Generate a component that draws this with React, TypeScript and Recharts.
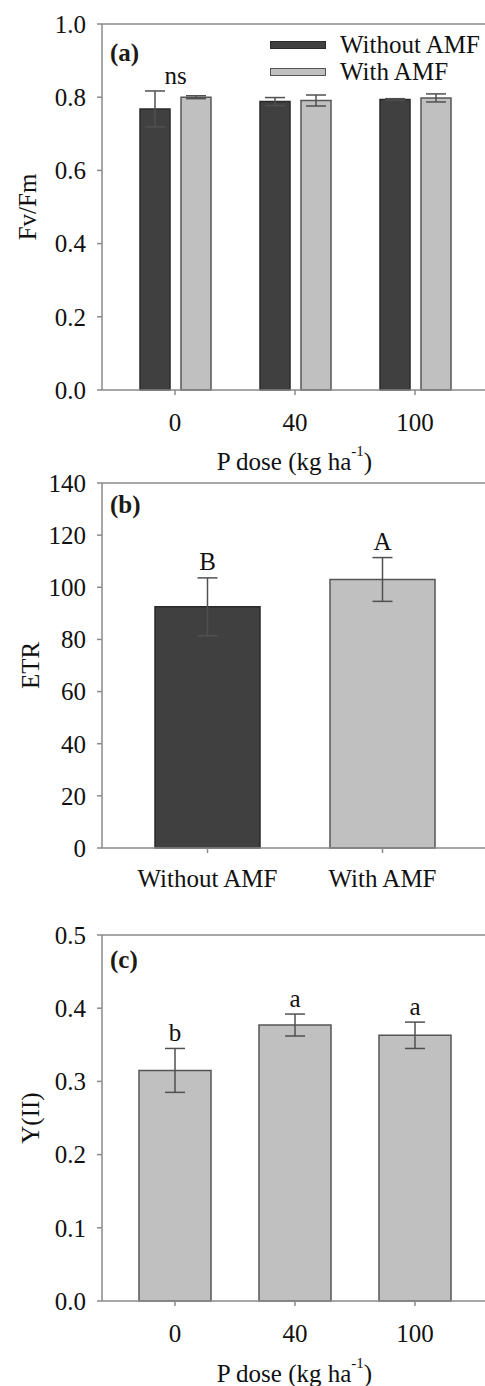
import { Bar, BarChart, Cell, ErrorBar, LabelList, ReferenceLine, XAxis, YAxis } from 'recharts'

// (a) Fv/Fm by P dose, with / without AMF
const pDoses = ['0', '40', '100']
const fvfmWithout = [0.768, 0.788, 0.794]
const fvfmWithoutErr = [0.049, 0.011, 0.002]
const fvfmWith = [0.8, 0.791, 0.798]
const fvfmWithErr = [0.004, 0.015, 0.011]
const fvfmLetters = ['ns', '', '']
const fvfmTicks = [0, 0.2, 0.4, 0.6, 0.8, 1.0]

// (b) ETR by AMF treatment
const amfGroups = ['Without AMF', 'With AMF']
const etrValues = [92.5, 103.0]
const etrErr = [11.1, 8.4]
const etrLetters = ['B', 'A']
const etrTicks = [0, 20, 40, 60, 80, 100, 120, 140]

// (c) Y(II) by P dose
const yiiValues = [0.315, 0.377, 0.363]
const yiiErr = [0.03, 0.015, 0.018]
const yiiLetters = ['b', 'a', 'a']
const yiiTicks = [0, 0.1, 0.2, 0.3, 0.4, 0.5]

const FONT = "'Liberation Serif', 'Times New Roman', Times, serif"
const AXIS = '#8a8a8a'
const TEXT = '#111'
const DARK = '#404040'
const DARK_EDGE = '#2a2a2a'
const LIGHT = '#c0c0c0'
const LIGHT_EDGE = '#555'
const ERR = '#505050'
const FS = 25

const fvfmData = pDoses.map((d, i) => ({
  dose: d,
  without: fvfmWithout[i],
  withoutErr: fvfmWithoutErr[i],
  with: fvfmWith[i],
  withErr: fvfmWithErr[i],
  letter: fvfmLetters[i],
}))

const etrData = amfGroups.map((g, i) => ({ group: g, etr: etrValues[i], err: etrErr[i], letter: etrLetters[i] }))

const yiiData = pDoses.map((d, i) => ({ dose: d, yii: yiiValues[i], err: yiiErr[i], letter: yiiLetters[i] }))

function XTick({ x, y, payload }: any) {
  return (
    <text x={x} y={y} textAnchor="middle" dominantBaseline="central" fontFamily={FONT} fontSize={FS} fill={TEXT}>
      {payload.value}
    </text>
  )
}

function YTitle({ px, py, text }: any) {
  return (
    <text x={px} y={py} transform={`rotate(-90 ${px} ${py})`} textAnchor="middle" dominantBaseline="central"
      fontFamily={FONT} fontSize={FS} fill={TEXT}>
      {text}
    </text>
  )
}

function DoseTitle({ px, py }: any) {
  return (
    <text x={px} y={py} textAnchor="middle" dominantBaseline="central" fontFamily={FONT} fontSize={FS} fill={TEXT}>
      P dose (kg ha<tspan dy={-10} fontSize={15}>-1</tspan><tspan dy={10}>)</tspan>
    </text>
  )
}

// letter centred over one bar's error cap
const barLetter = (rows: any[], key: string) => (p: any) => {
  const row = rows[p.index]
  if (!row || !row.letter) return null
  const x = Number(p.x), y = Number(p.y), w = Number(p.width), h = Number(p.height)
  const scale = h / row[key]
  const top = y + h - (row[key] + row.err) * scale
  return (
    <text x={x + w / 2} y={top - 16} textAnchor="middle" dominantBaseline="central" fontFamily={FONT} fontSize={FS} fill={TEXT}>
      {row.letter}
    </text>
  )
}

// letter centred over a pair of bars (panel a)
const groupLetter = (p: any) => {
  const row = fvfmData[p.index]
  if (!row || !row.letter) return null
  const x = Number(p.x), y = Number(p.y), w = Number(p.width), h = Number(p.height)
  const scale = h / row.without
  const hi = Math.max(row.without + row.withoutErr, row.with + row.withErr)
  return (
    <text x={x + w + 5.5} y={y + h - hi * scale - 15} textAnchor="middle" dominantBaseline="central" fontFamily={FONT} fontSize={FS} fill={TEXT}>
      {row.letter}
    </text>
  )
}

const yTick = { fill: TEXT, fontSize: FS, fontFamily: FONT }

const tag = (text: string, top: number) => (
  <div style={{ position: 'absolute', left: 110, top, fontFamily: FONT, fontSize: FS, fontWeight: 'bold', lineHeight: '30px', color: '#1d1a16' }}>
    {text}
  </div>
)

export default function App() {
  return (
    <div style={{ position: 'absolute', left: 0, top: 0, width: 485, height: 1386, overflow: 'hidden', background: '#fff' }}>
      {/* (a) */}
      <div style={{ position: 'absolute', left: 0, top: 0 }}>
        <BarChart width={500} height={480} data={fvfmData} margin={{ top: 24, right: 13, bottom: 0, left: 0 }} barGap={11}>
          <XAxis dataKey="dose" height={90} padding={{ left: 13, right: 12 }} stroke={AXIS} strokeWidth={1.5}
            tickSize={5} tickMargin={27} tick={<XTick />} label={<DoseTitle px={294.5} py={461} />} />
          <YAxis width={102} domain={[0, 1]} ticks={fvfmTicks} interval={0} stroke={AXIS} strokeWidth={1.5}
            tickSize={5} tickMargin={11} tick={yTick} tickFormatter={(v: number) => v.toFixed(1)}
            label={<YTitle px={27} py={207} text="Fv/Fm" />} />
          <ReferenceLine y={1} stroke={AXIS} strokeWidth={1.5} />
          <Bar dataKey="without" name="Without AMF" barSize={30} fill={DARK} stroke={DARK_EDGE} strokeWidth={1.5} isAnimationActive={false}>
            <ErrorBar dataKey="withoutErr" width={10} stroke={ERR} strokeWidth={1.5} isAnimationActive={false} />
            <LabelList dataKey="without" content={groupLetter} />
          </Bar>
          <Bar dataKey="with" name="With AMF" barSize={30} fill={LIGHT} stroke={LIGHT_EDGE} strokeWidth={1.5} isAnimationActive={false}>
            <ErrorBar dataKey="withErr" width={10} stroke={ERR} strokeWidth={1.5} isAnimationActive={false} />
          </Bar>
        </BarChart>
      </div>
      {tag('(a)', 38)}
      {/* legend */}
      <div style={{ position: 'absolute', left: 270, top: 31, fontFamily: FONT, fontSize: FS, color: TEXT }}>
        {[{ label: 'Without AMF', fill: DARK, edge: DARK_EDGE }, { label: 'With AMF', fill: LIGHT, edge: LIGHT_EDGE }].map(s => (
          <div key={s.label} style={{ display: 'flex', alignItems: 'center', height: 27 }}>
            <span style={{ width: 54, height: 6, background: s.fill, border: `1px solid ${s.edge}`, marginRight: 14 }} />
            <span style={{ lineHeight: '27px' }}>{s.label}</span>
          </div>
        ))}
      </div>

      {/* (b) */}
      <div style={{ position: 'absolute', left: 0, top: 470 }}>
        <BarChart width={500} height={440} data={etrData} margin={{ top: 13, right: 13, bottom: 0, left: 0 }}>
          <XAxis dataKey="group" height={62} padding={{ left: 18, right: 17 }} stroke={AXIS} strokeWidth={1.5}
            tickSize={5} tickMargin={25} tick={<XTick />} />
          <YAxis width={102} domain={[0, 140]} ticks={etrTicks} interval={0} stroke={AXIS} strokeWidth={1.5}
            tickSize={5} tickMargin={11} tick={yTick} label={<YTitle px={30} py={195.5} text="ETR" />} />
          <ReferenceLine y={140} stroke={AXIS} strokeWidth={1.5} />
          <Bar dataKey="etr" barSize={105} strokeWidth={1.5} isAnimationActive={false}>
            {etrData.map((_, i) => (
              <Cell key={i} fill={i === 0 ? DARK : LIGHT} stroke={i === 0 ? DARK_EDGE : LIGHT_EDGE} />
            ))}
            <ErrorBar dataKey="err" width={10} stroke={ERR} strokeWidth={1.5} isAnimationActive={false} />
            <LabelList dataKey="etr" content={barLetter(etrData, 'etr')} />
          </Bar>
        </BarChart>
      </div>
      {tag('(b)', 490)}

      {/* (c) */}
      <div style={{ position: 'absolute', left: 0, top: 910 }}>
        <BarChart width={500} height={476} data={yiiData} margin={{ top: 25, right: 13, bottom: 0, left: 0 }}>
          <XAxis dataKey="dose" height={85} padding={{ left: 13, right: 12 }} stroke={AXIS} strokeWidth={1.5}
            tickSize={5} tickMargin={27} tick={<XTick />} label={<DoseTitle px={294.5} py={463} />} />
          <YAxis width={102} domain={[0, 0.5]} ticks={yiiTicks} interval={0} stroke={AXIS} strokeWidth={1.5}
            tickSize={5} tickMargin={11} tick={yTick} tickFormatter={(v: number) => v.toFixed(1)}
            label={<YTitle px={30} py={208} text="Y(II)" />} />
          <ReferenceLine y={0.5} stroke={AXIS} strokeWidth={1.5} />
          <Bar dataKey="yii" barSize={72} fill={LIGHT} stroke={LIGHT_EDGE} strokeWidth={1.5} isAnimationActive={false}>
            <ErrorBar dataKey="err" width={10} stroke={ERR} strokeWidth={1.5} isAnimationActive={false} />
            <LabelList dataKey="yii" content={barLetter(yiiData, 'yii')} />
          </Bar>
        </BarChart>
      </div>
      {tag('(c)', 945)}
    </div>
  )
}
